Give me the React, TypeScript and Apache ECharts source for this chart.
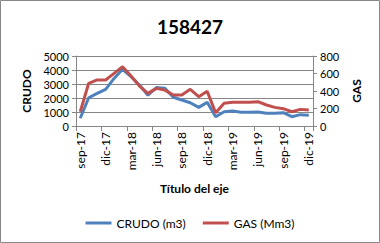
import React, { useEffect, useRef } from "react";
import * as echarts from "echarts";

const categories = [
  "sep-17", "oct-17", "nov-17", "dic-17", "ene-18", "feb-18", "mar-18", "abr-18", "may-18", "jun-18",
  "jul-18", "ago-18", "sep-18", "oct-18", "nov-18", "dic-18", "ene-19", "feb-19", "mar-19", "abr-19",
  "may-19", "jun-19", "jul-19", "ago-19", "sep-19", "oct-19", "nov-19", "dic-19",
];
const crudo = [550, 2020, 2330, 2620, 3400, 4050, 3520, 2930, 2200, 2750, 2700, 2050, 1860, 1660, 1330, 1690, 660, 1020, 1070, 980, 980, 1000, 905, 905, 950, 665, 810, 760];
const gas = [163, 488, 526, 526, 602, 678, 571, 457, 373, 430, 410, 354, 354, 419, 335, 396, 152, 259, 271, 271, 271, 278, 240, 213, 198, 163, 190, 183];

const FONT = "Lato";

export default function App() {
  const ref = useRef<HTMLDivElement>(null);
  useEffect(() => {
    const chart = echarts.init(ref.current!, null, { renderer: "svg" });
    const axisLine = { show: true, lineStyle: { color: "#868686", width: 1 } };
    const plain = (v: number) => String(v);
    chart.setOption({
      animation: false,
      backgroundColor: "#ffffff",
      textStyle: { fontFamily: FONT },
      title: {
        text: "158427",
        left: "center",
        top: 12,
        textStyle: { fontFamily: FONT, fontSize: 19, fontWeight: "bold", color: "#000" },
      },
      grid: { left: 76, right: 67, top: 56, bottom: 117, containLabel: false },
      legend: {
        bottom: 9,
        left: "center",
        itemWidth: 26,
        itemHeight: 3,
        itemGap: 17,
        icon: "rect",
        textStyle: { fontFamily: FONT, fontSize: 12, color: "#000" },
        data: ["CRUDO (m3)", "GAS (Mm3)"],
      },
      graphic: [
        {
          type: "rect",
          shape: { x: 0.5, y: 0.5, width: 379, height: 242 },
          style: { fill: "none", stroke: "#888888", lineWidth: 1 },
        },
      ],
      xAxis: {
        type: "category",
        data: categories,
        boundaryGap: true,
        name: "Título del eje",
        nameLocation: "middle",
        nameGap: 56,
        nameTextStyle: { fontFamily: FONT, fontSize: 12, fontWeight: "bold", color: "#000" },
        axisLine,
        axisTick: { show: true, interval: 2, length: 5, lineStyle: { color: "#868686" } },
        axisLabel: { interval: 2, rotate: 90, fontFamily: FONT, fontSize: 12, color: "#000", margin: 6 },
        splitLine: { show: false },
      },
      yAxis: [
        {
          type: "value",
          min: 0,
          max: 5000,
          interval: 1000,
          name: "CRUDO",
          nameLocation: "middle",
          nameRotate: 90,
          nameGap: 37,
          nameTextStyle: { fontFamily: FONT, fontSize: 12, fontWeight: "bold", color: "#000" },
          axisLine,
          axisTick: { show: true, length: 4, lineStyle: { color: "#868686" } },
          axisLabel: { fontFamily: FONT, fontSize: 11, color: "#000", margin: 7, formatter: plain },
          splitLine: { show: true, lineStyle: { color: "#868686", width: 1 } },
        },
        {
          type: "value",
          min: 0,
          max: 800,
          interval: 200,
          name: "GAS",
          nameLocation: "middle",
          nameRotate: 90,
          nameGap: 36,
          nameTextStyle: { fontFamily: FONT, fontSize: 12, fontWeight: "bold", color: "#000" },
          axisLine,
          axisTick: { show: true, length: 4, lineStyle: { color: "#868686" } },
          axisLabel: { fontFamily: FONT, fontSize: 11, color: "#000", margin: 7, formatter: plain },
          splitLine: { show: false },
        },
      ],
      series: [
        {
          name: "CRUDO (m3)",
          type: "line",
          yAxisIndex: 0,
          data: crudo,
          showSymbol: false,
          symbol: "none",
          lineStyle: { color: "#4F81BD", width: 3 },
          itemStyle: { color: "#4F81BD" },
        },
        {
          name: "GAS (Mm3)",
          type: "line",
          yAxisIndex: 1,
          data: gas,
          showSymbol: false,
          symbol: "none",
          lineStyle: { color: "#C0504D", width: 3 },
          itemStyle: { color: "#C0504D" },
        },
      ],
    });
    return () => chart.dispose();
  }, []);
  return (
    <div
      ref={ref}
      style={{ position: "fixed", left: 0, top: 0, width: 380, height: 243 }}
    />
  );
}
